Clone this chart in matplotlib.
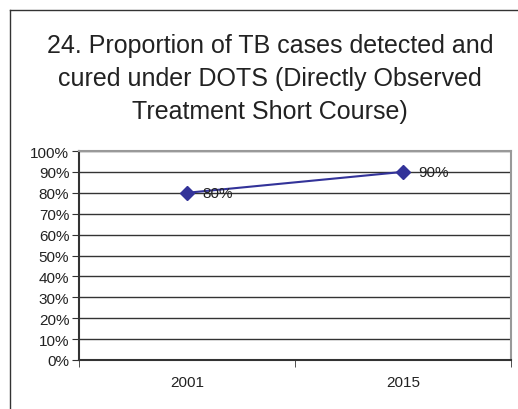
import matplotlib.pyplot as plt
from matplotlib.lines import Line2D
from matplotlib.ticker import PercentFormatter

plt.rcParams["font.family"] = ["Liberation Sans", "DejaVu Sans"]

years = ["2001", "2015"]
proportion = [80, 90]
point_labels = ["80%", "90%"]
y_ticks = list(range(0, 101, 10))

title = ("24. Proportion of TB cases detected and\n"
         "cured under DOTS (Directly Observed\n"
         "Treatment Short Course)")

fig = plt.figure(figsize=(5.18, 4.10), dpi=100)
W, H = 518, 410

# outer chart frame (only top and left edges show in the picture)
fig.add_artist(Line2D([10 / W, 1], [1 - 11 / H, 1 - 11 / H], color="#333333", lw=1))
fig.add_artist(Line2D([10 / W, 10 / W], [0, 1 - 11 / H], color="#333333", lw=1))

fig.text(270 / W, 1 - 79 / H, title, ha="center", va="center",
         fontsize=18, color="#222222", linespacing=1.45)

ax = fig.add_axes([79 / W, 1 - 361 / H, (511 - 79) / W, (361 - 152) / H])

x = list(range(len(years)))
ax.plot(x, proportion, color="#333399", lw=1.5, marker="D", markersize=7.5,
        markerfacecolor="#333399", markeredgecolor="#333399", zorder=3)
for xi, yi, lab in zip(x, proportion, point_labels):
    ax.annotate(lab, (xi, yi), xytext=(11, 0), textcoords="offset points",
                ha="left", va="center", fontsize=11, color="#222222")

ax.set_xlim(-0.5, len(years) - 0.5)
ax.set_ylim(0, 100)
ax.set_yticks(y_ticks)
ax.yaxis.set_major_formatter(PercentFormatter(decimals=0))
ax.set_xticks(x)
ax.set_xticklabels(years)
ax.set_xticks([-0.5, 0.5, 1.5], minor=True)
ax.tick_params(axis="x", which="major", length=0, pad=11, labelsize=11, labelcolor="#222222")
ax.tick_params(axis="x", which="minor", length=5, direction="out", color="#333333")
ax.tick_params(axis="y", length=5, direction="out", labelsize=11, labelcolor="#222222",
               color="#333333", pad=2)

ax.grid(axis="y", color="#333333", lw=1)
ax.set_axisbelow(True)
for side in ["left", "bottom"]:
    ax.spines[side].set_color("#333333")
    ax.spines[side].set_linewidth(1.5)
for side in ["top", "right"]:
    ax.spines[side].set_color("#999999")
    ax.spines[side].set_linewidth(1.5)

fig.savefig("out.png", dpi=100)
